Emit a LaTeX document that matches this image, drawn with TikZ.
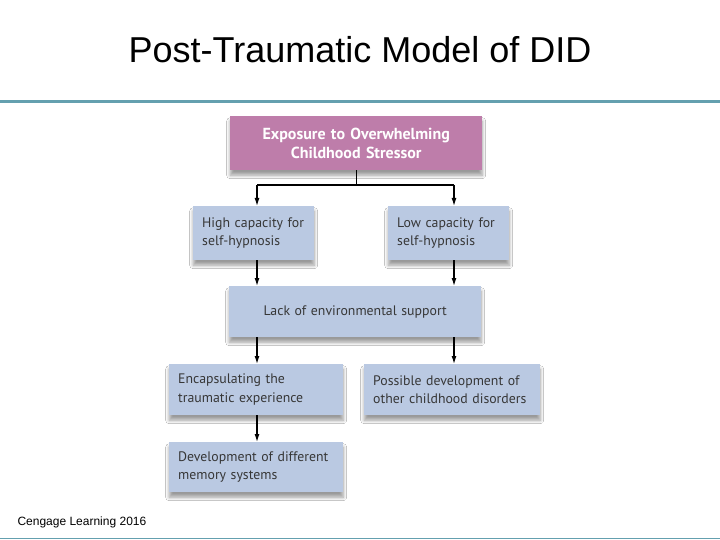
\documentclass[tikz,border=0pt]{standalone}
\usepackage{fontspec}
\setmainfont{Liberation Sans}
\newfontfamily\boxfont{PT Sans}
\usetikzlibrary{arrows.meta,shadows.blur}
\definecolor{lineteal}{RGB}{100,160,175}
\definecolor{pinkbox}{RGB}{190,125,170}
\definecolor{bluebox}{RGB}{186,201,226}
\definecolor{boxtext}{RGB}{55,55,55}
\definecolor{shadowcol}{RGB}{135,130,80}
\newcommand{\boxline}[1]{\mbox{#1}}
\begin{document}
\begin{tikzpicture}[x=1pt,y=-1pt,
  basebox/.style={anchor=north west, inner xsep=9pt, inner ysep=0pt,
    blur shadow={shadow xshift=0pt, shadow yshift=-5pt, shadow blur steps=6,
      shadow opacity=40, shadow blur radius=3.5pt, fill=shadowcol}},
  bbox/.style={basebox, fill=bluebox, font=\boxfont\fontsize{13.8}{18.5}\selectfont,
    text=boxtext, align=left},
  pbox/.style={basebox, fill=pinkbox, font=\boxfont\bfseries\fontsize{16}{19.5}\selectfont,
    text=white, align=center},
  link/.style={line width=1.2pt, black},
  arr/.style={link, -{Latex[length=8pt,width=5pt]}}]
\fill[white] (0,0) rectangle (720,540);
\useasboundingbox (0,0) rectangle (720,540);
% title and rules
\node (title) at (360,50) {\fontsize{36}{40}\selectfont Post-Traumatic Model of DID};
\draw[lineteal, line width=3pt] (0,102) -- (720,102);
\draw[lineteal, line width=1.5pt] (0,538.5) -- (720,538.5);
\node[anchor=west, font=\fontsize{12}{14}\selectfont] (foot) at (14,522) {Cengage Learning 2016};
% boxes
\node[pbox, minimum width=252pt, minimum height=54pt, text width=234pt] (top) at (230,116)
  {\boxline{Exposure to Overwhelming}\\\boxline{Childhood Stressor}};
\node[bbox, minimum width=121pt, minimum height=54pt, text width=103pt] (high) at (193,206)
  {\boxline{High capacity for}\\\boxline{self-hypnosis}};
\node[bbox, minimum width=121pt, minimum height=54pt, text width=103pt] (low) at (388,206)
  {\boxline{Low capacity for}\\\boxline{self-hypnosis}};
\node[bbox, minimum width=252pt, minimum height=51pt, text width=234pt, align=center] (lack) at (229,286)
  {\boxline{Lack of environmental support}};
\node[bbox, minimum width=174pt, minimum height=51pt, text width=156pt] (enc) at (169,364)
  {\boxline{Encapsulating the}\\\boxline{traumatic experience}};
\node[bbox, minimum width=176pt, minimum height=51pt, text width=158pt] (poss) at (364,364)
  {\boxline{Possible development of}\\\boxline{other childhood disorders}};
\node[bbox, minimum width=174pt, minimum height=50pt, text width=156pt] (mem) at (169,442)
  {\boxline{Development of different}\\\boxline{memory systems}};
% connectors
\coordinate (jl) at (257,185);
\coordinate (jr) at (454,185);
\draw[link] (top.south) -- (top.south |- jl);
\draw[link] (jl) -- (jr);
\draw[arr] (jl) -- (jl |- high.north);
\draw[arr] (jr) -- (jr |- low.north);
\draw[arr] (jl |- high.south) -- (jl |- lack.north);
\draw[arr] (jr |- low.south) -- (jr |- lack.north);
\draw[arr] (jl |- lack.south) -- (jl |- enc.north);
\draw[arr] (jr |- lack.south) -- (jr |- poss.north);
\draw[arr] (jl |- enc.south) -- (jl |- mem.north);
\end{tikzpicture}
\end{document}
